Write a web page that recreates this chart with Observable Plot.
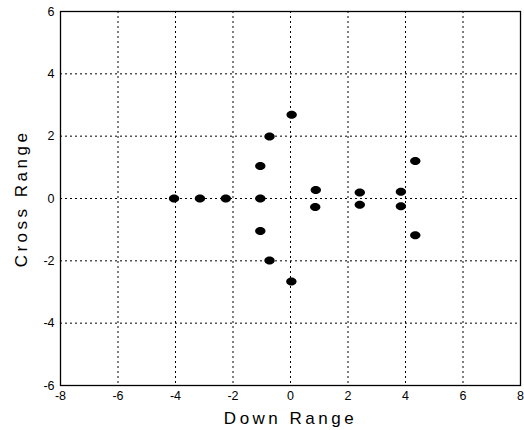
<!DOCTYPE html>
<html><head><meta charset="utf-8">
<script src="https://cdn.jsdelivr.net/npm/d3@7"></script>
<script src="https://cdn.jsdelivr.net/npm/@observablehq/plot@0.6"></script>
<style>
body{margin:0;background:#fff;}
svg{font-family:"Liberation Sans",Arial,sans-serif;}
</style>
</head><body><div id="chart"></div>
<script>
const downRange  = [-4.05, -3.15, -2.25, -1.05, -1.05, -1.05, -0.73, -0.73, 0.04, 0.03, 0.88, 0.86, 2.41, 2.41, 3.84, 3.84, 4.34, 4.34];
const crossRange = [0, 0, 0, 0, 1.04, -1.04, 1.99, -1.99, 2.69, -2.66, 0.27, -0.27, 0.19, -0.2, 0.22, -0.25, 1.2, -1.18];
const xTicks = [-8, -6, -4, -2, 0, 2, 4, 6, 8];
const yTicks = [-6, -4, -2, 0, 2, 4, 6];

const data = downRange.map((d, i) => ({x: d, y: crossRange[i]}));

const ellipse = {
  draw(ctx, size) {
    const rx = 5.2, ry = 4.0, k = 0.5523;
    ctx.moveTo(rx, 0);
    ctx.bezierCurveTo(rx, ry * k, rx * k, ry, 0, ry);
    ctx.bezierCurveTo(-rx * k, ry, -rx, ry * k, -rx, 0);
    ctx.bezierCurveTo(-rx, -ry * k, -rx * k, -ry, 0, -ry);
    ctx.bezierCurveTo(rx * k, -ry, rx, -ry * k, rx, 0);
    ctx.closePath();
  }
};

const fmt = d => d < 0 ? "-" + Math.abs(d) : String(d);

const chart = Plot.plot({
  width: 524,
  height: 430,
  marginLeft: 60,
  marginTop: 11,
  marginRight: 4,
  marginBottom: 45,
  style: {fontFamily: '"Liberation Sans", Arial, sans-serif', fontSize: "12px", color: "#000", background: "#fff"},
  x: {domain: [-8, 8]},
  y: {domain: [-6, 6]},
  marks: [
    Plot.gridX(xTicks, {stroke: "#000", strokeOpacity: 1, strokeWidth: 1, strokeDasharray: "2,3"}),
    Plot.gridY(yTicks, {stroke: "#000", strokeOpacity: 1, strokeWidth: 1, strokeDasharray: "2,3"}),
    Plot.frame({stroke: "#000", strokeWidth: 1.3}),
    Plot.axisX({ticks: xTicks, tickSize: 0, tickPadding: 6, tickFormat: fmt,
      fontSize: 12.5, label: "Down Range", labelAnchor: "center", labelArrow: "none", labelOffset: 38}),
    Plot.axisY({ticks: yTicks, tickSize: 0, tickPadding: 6, tickFormat: fmt,
      fontSize: 12.5, label: "Cross Range", labelAnchor: "center", labelArrow: "none", labelOffset: 46}),
    Plot.dot(data, {x: "x", y: "y", symbol: ellipse, r: 4, fill: "#000", stroke: "none"})
  ]
});
document.getElementById("chart").append(chart);
d3.select(chart).selectAll("[aria-label='x-axis label'] text, [aria-label='y-axis label'] text")
  .style("font-size", "17px").style("letter-spacing", "3.5px");
</script>
</body></html>
